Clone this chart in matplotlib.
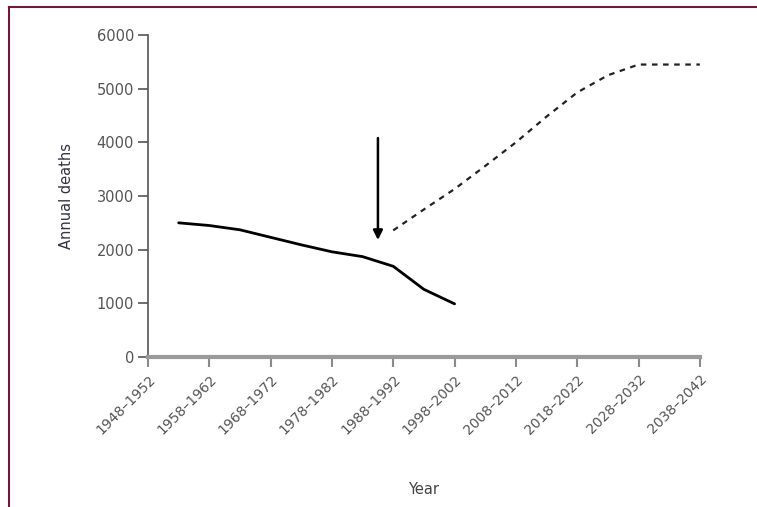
import matplotlib.pyplot as plt
from matplotlib.lines import Line2D

# period midpoints and labels on the x axis
tick_years = [1950, 1960, 1970, 1980, 1990, 2000, 2010, 2020, 2030, 2040]
tick_labels = ['1948–1952', '1958–1962', '1968–1972', '1978–1982', '1988–1992',
               '1998–2002', '2008–2012', '2018–2022', '2028–2032', '2038–2042']

# observed deaths (solid line)
obs_years = [1955, 1960, 1965, 1970, 1975, 1980, 1985, 1990, 1995, 2000]
obs_deaths = [2500, 2450, 2370, 2230, 2090, 1960, 1870, 1690, 1260, 990]

# projected deaths without intervention (dashed line)
proj_years = [1990, 1995, 2000, 2005, 2010, 2015, 2020, 2025, 2030, 2035, 2040]
proj_deaths = [2360, 2750, 3130, 3560, 4000, 4480, 4930, 5250, 5450, 5450, 5450]

# arrow marking the start of the programme
arrow_year = 1987.5
arrow_from = 4080
arrow_to = 2180

plt.rcParams['font.family'] = ['DejaVu Sans']

fig = plt.figure(figsize=(7.57, 5.07), dpi=100)
ax = fig.add_axes([0.1955, 0.2959, 0.729, 0.635])

ax.plot(obs_years, obs_deaths, color='black', lw=2.0, solid_capstyle='round')
ax.plot(proj_years, proj_deaths, color='#222222', lw=1.6, linestyle=(0, (2.5, 2.5)))
ax.annotate('', xy=(arrow_year, arrow_to), xytext=(arrow_year, arrow_from),
            arrowprops=dict(arrowstyle='-|>', color='black', lw=1.8,
                            mutation_scale=14, shrinkA=0, shrinkB=0))

ax.set_xlim(1950, 2040)
ax.set_ylim(0, 6000)
ax.set_yticks(range(0, 6001, 1000))
ax.set_xticks(tick_years)
ax.set_xticklabels(tick_labels, rotation=45, ha='right', rotation_mode='anchor')

for s in ['top', 'right']:
    ax.spines[s].set_visible(False)
ax.spines['left'].set_color('#555555')
ax.spines['left'].set_linewidth(1.2)
ax.spines['bottom'].set_color('#9a9a9a')
ax.spines['bottom'].set_linewidth(3)

ax.tick_params(axis='y', colors='#555555', labelcolor='#555555', length=7,
               width=1.2, labelsize=10.5, pad=3)
ax.tick_params(axis='x', colors='#8a8a8a', labelcolor='#555555', length=7,
               width=1.5, labelsize=10, pad=4)

ax.set_ylabel('Annual deaths', fontsize=10.5, color='#333344', labelpad=16)
ax.set_xlabel('Year', fontsize=10.5, color='#444444', labelpad=32)

# maroon frame lines along top and left edge
fig.add_artist(Line2D([9 / 757, 1.0], [1 - 7 / 507, 1 - 7 / 507],
                      transform=fig.transFigure, color='#6b1a3a', lw=1.5))
fig.add_artist(Line2D([9 / 757, 9 / 757], [0, 1 - 7 / 507],
                      transform=fig.transFigure, color='#6b1a3a', lw=1.5))

fig.savefig('out.png', dpi=100)
